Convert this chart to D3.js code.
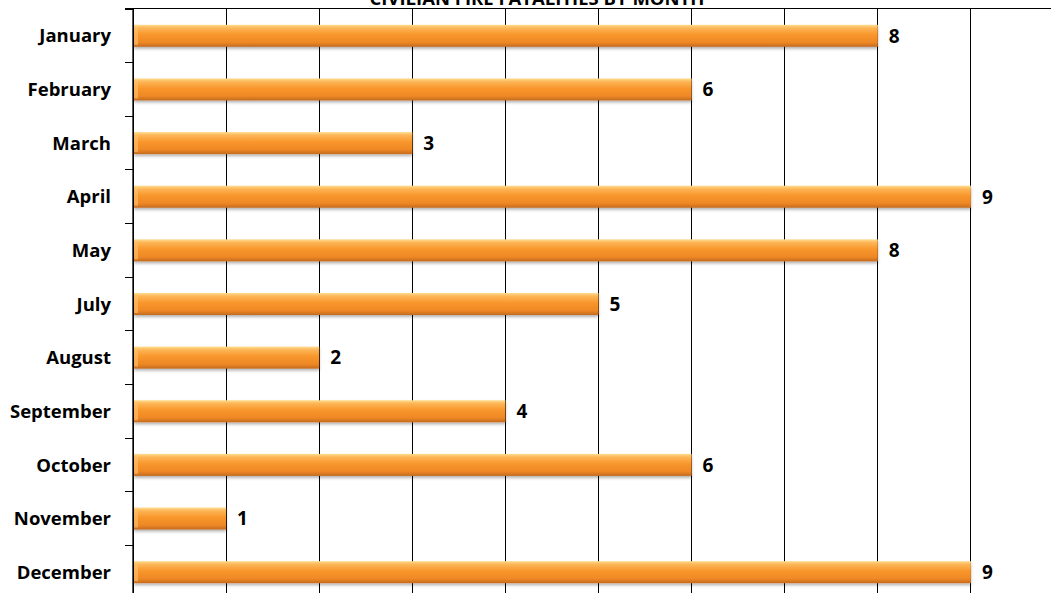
<!DOCTYPE html>
<html>
<head>
<meta charset="utf-8">
<script src="https://cdn.jsdelivr.net/npm/d3@7"></script>
<style>
  body { margin: 0; background: #fff; }
  svg { display: block; font-family: 'Open Sans', Lato, sans-serif; }
</style>
</head>
<body>
<svg id="chart" width="1051" height="593"></svg>
<script>
const chartTitle = 'CIVILIAN FIRE FATALITIES BY MONTH';
const months = ['January', 'February', 'March', 'April', 'May', 'July', 'August', 'September', 'October', 'November', 'December'];
const fatalities = [8, 6, 3, 9, 8, 5, 2, 4, 6, 1, 9];
const xTicks = [0, 1, 2, 3, 4, 5, 6, 7, 8, 9, 10];

const margin = { top: 9, left: 133 };
const svg = d3.select('#chart');

// scales (the plot runs a bit past the bottom and right edge of the window)
const x = d3.scaleLinear().domain([0, 10]).range([margin.left, margin.left + 931]);
const y = d3.scaleBand().domain(months).range([margin.top, margin.top + 590]).paddingInner(0.59).paddingOuter(0.295);

const defs = svg.append('defs');
const grad = defs.append('linearGradient').attr('id', 'barGrad').attr('x1', 0).attr('y1', 0).attr('x2', 0).attr('y2', 1);
grad.append('stop').attr('offset', '0%').attr('stop-color', '#ffdc8e');
grad.append('stop').attr('offset', '15%').attr('stop-color', '#fdb556');
grad.append('stop').attr('offset', '45%').attr('stop-color', '#f8962b');
grad.append('stop').attr('offset', '80%').attr('stop-color', '#ee8825');
grad.append('stop').attr('offset', '100%').attr('stop-color', '#c46a1e');

const shadow = defs.append('filter').attr('id', 'shadow').attr('x', '-2%').attr('y', '-20%').attr('width', '104%').attr('height', '160%');
shadow.append('feDropShadow').attr('dx', 0).attr('dy', 2).attr('stdDeviation', 1.5).attr('flood-color', '#000').attr('flood-opacity', 0.3);

// vertical gridlines
svg.append('g')
  .selectAll('line')
  .data(xTicks)
  .join('line')
  .attr('x1', d => x(d)).attr('x2', d => x(d))
  .attr('y1', margin.top - 1).attr('y2', 593)
  .attr('stroke', '#000').attr('stroke-width', 1)
  .attr('shape-rendering', 'crispEdges');

// top border
svg.append('line')
  .attr('x1', margin.left - 8).attr('x2', 1051)
  .attr('y1', margin.top - 1).attr('y2', margin.top - 1)
  .attr('stroke', '#000').attr('shape-rendering', 'crispEdges');

// category tick marks at band edges
const edges = months.map(m => y(m) - (y.step() - y.bandwidth()) / 2);
edges.push(edges[edges.length - 1] + y.step());
svg.append('g')
  .selectAll('line')
  .data(edges)
  .join('line')
  .attr('x1', margin.left - 8).attr('x2', margin.left)
  .attr('y1', d => d).attr('y2', d => d)
  .attr('stroke', '#000').attr('shape-rendering', 'crispEdges');

// bars
const rows = months.map((m, i) => ({ month: m, value: fatalities[i] }));
const bars = svg.append('g').selectAll('g').data(rows).join('g');

bars.append('rect')
  .attr('x', x(0) + 1)
  .attr('y', d => y(d.month))
  .attr('width', d => x(d.value) - x(0) - 1)
  .attr('height', y.bandwidth())
  .attr('fill', 'url(#barGrad)')
  .attr('filter', 'url(#shadow)');

// light bevel on the left end
bars.append('rect')
  .attr('x', x(0) + 1)
  .attr('y', d => y(d.month) + 2)
  .attr('width', 4)
  .attr('height', y.bandwidth() - 4)
  .attr('fill', '#ffc36e')
  .attr('opacity', 0.6);

// value labels
bars.append('text')
  .attr('x', d => x(d.value) + 11)
  .attr('y', d => y(d.month) + y.bandwidth() / 2)
  .attr('dy', '0.36em')
  .attr('font-size', 19)
  .attr('font-weight', 'bold')
  .attr('fill', '#000')
  .text(d => d.value);

// category labels
svg.append('g')
  .selectAll('text')
  .data(months)
  .join('text')
  .attr('x', 111)
  .attr('y', d => y(d) + y.bandwidth() / 2)
  .attr('dy', '0.36em')
  .attr('text-anchor', 'end')
  .attr('font-size', 18.5)
  .attr('font-weight', 'bold')
  .attr('fill', '#000')
  .text(d => d);

// y axis line
svg.append('line')
  .attr('x1', x(0)).attr('x2', x(0))
  .attr('y1', margin.top - 1).attr('y2', 593)
  .attr('stroke', '#000').attr('stroke-width', 1.3);

// title, cut off at the top like the original
svg.append('text')
  .attr('x', 537)
  .attr('y', 5)
  .attr('text-anchor', 'middle')
  .attr('font-size', 18.5)
  .attr('font-weight', 'bold')
  .attr('fill', '#000')
  .text(chartTitle);
</script>
</body>
</html>
